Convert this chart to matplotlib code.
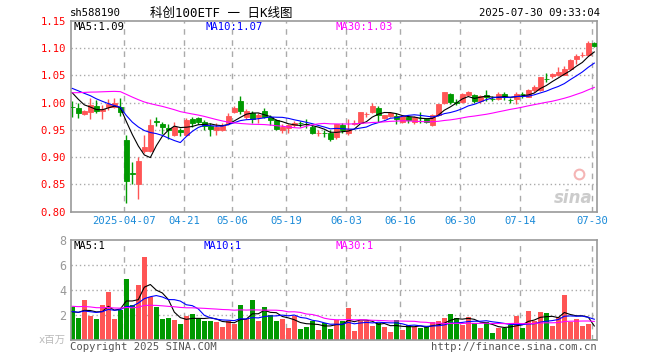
import numpy as np
import pandas as pd
import matplotlib
matplotlib.use('Agg')
import matplotlib.pyplot as plt

# daily K data, 2025-03-24 .. 2025-07-30 (88 trading days)
opens = [0.992, 0.990, 0.979, 0.982, 0.994, 0.984, 0.991, 0.992, 0.992, 0.932,
         0.870, 0.851, 0.912, 0.912, 0.966, 0.960, 0.954, 0.941, 0.949, 0.941,
         0.969, 0.971, 0.964, 0.957, 0.949, 0.950, 0.962, 0.983, 1.003, 0.974,
         0.980, 0.973, 0.985, 0.974, 0.968, 0.950, 0.953, 0.958, 0.9625, 0.9615,
         0.956, 0.9445, 0.9445, 0.944, 0.936, 0.958, 0.944, 0.9615, 0.962, 0.9785,
         0.982, 0.990, 0.971, 0.9755, 0.9745, 0.965, 0.974, 0.965, 0.9715, 0.9695,
         0.958, 0.9775, 0.999, 1.016, 1.0005, 1.001, 1.014, 1.014, 1.002, 1.014,
         1.007, 1.006, 1.016, 1.0055, 1.006, 1.016, 1.011, 1.023, 1.023, 1.044,
         1.048, 1.051, 1.051, 1.061, 1.080, 1.0865, 1.087, 1.109]
highs = [1.002, 1.000, 0.986, 1.008, 1.004, 0.996, 1.007, 1.008, 1.008, 0.941,
         0.891, 0.901, 0.941, 0.970, 0.973, 0.964, 0.961, 0.964, 0.953, 0.971,
         0.973, 0.974, 0.968, 0.962, 0.962, 0.963, 0.980, 0.994, 1.012, 0.988,
         0.984, 0.981, 0.990, 0.977, 0.969, 0.960, 0.960, 0.966, 0.967, 0.970,
         0.958, 0.950, 0.950, 0.950, 0.961, 0.962, 0.970, 0.968, 0.982, 0.9835,
         1.000, 0.993, 0.978, 0.982, 0.9805, 0.977, 0.977, 0.976, 0.9835, 0.972,
         0.9785, 0.998, 1.020, 1.017, 1.006, 1.018, 1.022, 1.016, 1.014, 1.023,
         1.0125, 1.019, 1.020, 1.008, 1.020, 1.020, 1.024, 1.032, 1.047, 1.054,
         1.054, 1.065, 1.067, 1.079, 1.089, 1.093, 1.112, 1.111]
lows = [0.973, 0.972, 0.977, 0.970, 0.980, 0.970, 0.987, 0.990, 0.976, 0.816,
        0.851, 0.823, 0.908, 0.910, 0.957, 0.943, 0.933, 0.938, 0.938, 0.939,
        0.956, 0.961, 0.949, 0.938, 0.941, 0.947, 0.958, 0.980, 0.979, 0.970,
        0.962, 0.963, 0.972, 0.959, 0.950, 0.944, 0.944, 0.955, 0.956, 0.954,
        0.943, 0.938, 0.937, 0.930, 0.934, 0.945, 0.941, 0.959, 0.962, 0.973,
        0.980, 0.965, 0.969, 0.973, 0.961, 0.962, 0.962, 0.960, 0.962, 0.963,
        0.957, 0.976, 0.998, 0.998, 0.996, 0.999, 1.012, 0.9985, 1.000, 1.002,
        1.002, 1.004, 1.004, 1.000, 0.998, 1.008, 1.010, 1.020, 1.022, 1.037,
        1.045, 1.048, 1.050, 1.060, 1.071, 1.083, 1.085, 1.101]
closes = [0.991, 0.981, 0.984, 0.995, 0.985, 0.989, 0.998, 1.000, 0.983, 0.857,
          0.869, 0.893, 0.918, 0.959, 0.965, 0.956, 0.949, 0.955, 0.946, 0.968,
          0.963, 0.965, 0.957, 0.952, 0.956, 0.958, 0.976, 0.990, 0.984, 0.985,
          0.969, 0.977, 0.973, 0.968, 0.951, 0.956, 0.958, 0.963, 0.962, 0.961,
          0.944, 0.945, 0.944, 0.934, 0.960, 0.950, 0.951, 0.962, 0.982, 0.979,
          0.993, 0.9775, 0.9775, 0.981, 0.9695, 0.9755, 0.968, 0.973, 0.971, 0.965,
          0.9775, 0.9975, 1.019, 1.001, 1.000, 1.016, 1.019, 1.002, 1.012, 1.010,
          1.0065, 1.016, 1.010, 1.005, 1.016, 1.0155, 1.023, 1.028, 1.046, 1.0435,
          1.052, 1.056, 1.062, 1.078, 1.0845, 1.087, 1.110, 1.104]
# volume, millions
volume = [2.69, 1.81, 3.22, 1.94, 1.70, 2.82, 3.89, 1.70, 2.42, 4.90,
          2.82, 4.42, 6.69, 3.49, 2.64, 1.70, 1.81, 1.62, 1.30, 1.94,
          2.10, 1.81, 1.57, 1.57, 1.49, 1.09, 1.57, 1.30, 2.82, 1.70,
          3.22, 1.57, 2.69, 2.00, 1.57, 1.70, 1.01, 1.94, 0.90, 1.09,
          1.57, 0.82, 1.36, 0.90, 1.62, 1.57, 2.61, 0.74, 1.57, 1.57,
          1.14, 1.36, 1.09, 0.69, 1.62, 0.82, 1.22, 1.09, 1.01, 1.09,
          1.44, 1.57, 1.76, 2.10, 1.81, 1.22, 1.89, 1.36, 1.01, 1.49,
          0.61, 1.01, 1.01, 1.22, 1.94, 1.01, 2.37, 1.57, 2.29, 2.21,
          1.14, 1.86, 3.62, 1.49, 1.70, 1.14, 1.30, 0.10]

# sessions before the window, only used to seed the moving averages
prev_close = [0.975, 0.972, 0.978, 0.980, 0.976, 0.985, 0.990, 0.998, 1.005, 1.020,
              1.035, 1.045, 1.050, 1.042, 1.030, 1.038, 1.048, 1.052, 1.035, 1.026,
              1.025, 1.030, 1.038, 1.042, 1.035, 1.040, 1.035, 1.015, 1.008]
prev_vol = [2.6, 2.8, 3.1, 3.5, 2.9, 3.3, 3.0, 2.7, 3.4, 3.6,
            2.8, 2.5, 3.2, 2.9, 2.7, 3.1, 2.6, 2.9, 2.8, 2.2,
            2.4, 2.2, 2.5, 2.3, 2.15, 2.1, 2.4, 2.0, 2.26]

tick_pos = [9, 19, 27, 36, 46, 55, 65, 75, 87]
tick_labels = ['2025-04-07', '04-21', '05-06', '05-19', '06-03', '06-16',
               '06-30', '07-14', '07-30']

RED = '#ff5555'
GREEN = '#009900'
MONO = 'DejaVu Sans Mono'
CJK = ['DejaVu Sans Mono', 'Noto Sans CJK SC']

n = len(closes)
x = np.arange(n)
o = np.array(opens)
c = np.array(closes)
colors = [RED if c[i] > o[i] else GREEN for i in range(n)]

cs = pd.Series(prev_close + closes)
vs = pd.Series(prev_vol + volume)
k = len(prev_close)
ma = {p: cs.rolling(p).mean().values[k:] for p in (5, 10, 30)}
vma = {p: vs.rolling(p).mean().values[k:] for p in (5, 10, 30)}
ma_colors = {5: 'black', 10: '#0000ff', 30: '#ff00ff'}

fig = plt.figure(figsize=(6.6, 3.6), dpi=100)
ax = fig.add_axes([71 / 660, 1 - 211.7 / 360, 526 / 660, 191 / 360])
axv = fig.add_axes([71 / 660, 1 - 340.3 / 360, 526 / 660, 100 / 360])

for a in (ax, axv):
    a.set_xlim(-0.22, 87.45)
    for s in a.spines.values():
        s.set_color('#999999')
        s.set_linewidth(1.2)
    a.tick_params(length=0)
    a.set_xticks([])
    for t in tick_pos:
        a.axvline(t - 0.33, color='#aaaaaa', lw=1, ls=(0, (4, 4)), zorder=0)

# candles
ax.vlines(x, lows, highs, colors=colors, lw=1, zorder=2)
ax.bar(x, np.abs(c - o), bottom=np.minimum(c, o), width=0.8, color=colors,
       edgecolor=colors, linewidth=0.6, zorder=3)
for p in (5, 10, 30):
    ax.plot(x, ma[p], color=ma_colors[p], lw=0.8, zorder=4)

ax.set_ylim(0.80, 1.15)
yt = [0.80, 0.85, 0.90, 0.95, 1.00, 1.05, 1.10, 1.15]
ax.set_yticks(yt)
ax.set_yticklabels(['%.2f' % v for v in yt], color='red', family=MONO, fontsize=7.6)
for v in yt[1:-1]:
    ax.axhline(v, color='#aaaaaa', lw=1, ls=(0, (1, 2)), zorder=0)

for t, lab in zip(tick_pos, tick_labels):
    fig.text((72.3 + 6 * t - 2) / 660, 1 - 221 / 360, lab, color='#1a8ad8',
             family=MONO, fontsize=7.6, ha='center', va='center')

# sina watermark
ax.text(0.955, 0.07, 'sina', transform=ax.transAxes, fontsize=12, fontweight='bold',
        style='italic', color='#cccccc', ha='center', va='center', zorder=1)
ax.plot([0.965], [0.2], 'o', transform=ax.transAxes, ms=7, mfc='none',
        mec='#f5b5b5', mew=1.5, zorder=1)

# volume
axv.bar(x, volume, width=0.82, color=colors, zorder=2)
for p in (5, 10, 30):
    axv.plot(x, vma[p], color=ma_colors[p], lw=0.8, zorder=3)
axv.set_ylim(0, 8)
axv.set_yticks([2, 4, 6, 8])
axv.set_yticklabels(['2', '4', '6', '8'], color='#999999', family=MONO, fontsize=8.5)
for v in (2, 4, 6):
    axv.axhline(v, color='#aaaaaa', lw=1, ls=(0, (1, 2)), zorder=0)

# header and labels
fig.text(70 / 660, 1 - 13 / 360, 'sh588190', family=MONO, fontsize=7.6, va='center')
fig.text(221 / 660, 1 - 13 / 360, '科创100ETF 一 日K线图', family=CJK, fontsize=9,
         ha='center', va='center')
fig.text(600 / 660, 1 - 13 / 360, '2025-07-30 09:33:04', family=MONO, fontsize=7.6,
         ha='right', va='center')
fig.text(74 / 660, 1 - 27 / 360, 'MA5:%.2f' % ma[5][-1], family=MONO, fontsize=7.6,
         color='black', va='center')
fig.text(206 / 660, 1 - 27 / 360, 'MA10:%.2f' % ma[10][-1], family=MONO, fontsize=7.6,
         color='#0000ff', va='center')
fig.text(336 / 660, 1 - 27 / 360, 'MA30:%.2f' % ma[30][-1], family=MONO, fontsize=7.6,
         color='#ff00ff', va='center')
fig.text(74 / 660, 1 - 246 / 360, 'MA5:%d' % int(vma[5][-1]), family=MONO,
         fontsize=7.6, color='black', va='center')
fig.text(204 / 660, 1 - 246 / 360, 'MA10:%d' % int(vma[10][-1]), family=MONO,
         fontsize=7.6, color='#0000ff', va='center')
fig.text(335 / 660, 1 - 246 / 360, 'MA30:%d' % int(vma[30][-1]), family=MONO,
         fontsize=7.6, color='#ff00ff', va='center')
fig.text(66 / 660, 1 - 340 / 360, 'x百万', family=CJK, fontsize=7.5, color='#bbbbbb',
         ha='right', va='center')
fig.text(70 / 660, 1 - 347 / 360, 'Copyright 2025 SINA.COM', family=MONO, fontsize=7.6,
         color='#555555', va='center')
fig.text(597 / 660, 1 - 347 / 360, 'http://finance.sina.com.cn', family=MONO,
         fontsize=7.6, color='#555555', ha='right', va='center')

plt.savefig('out.png', dpi=100)
